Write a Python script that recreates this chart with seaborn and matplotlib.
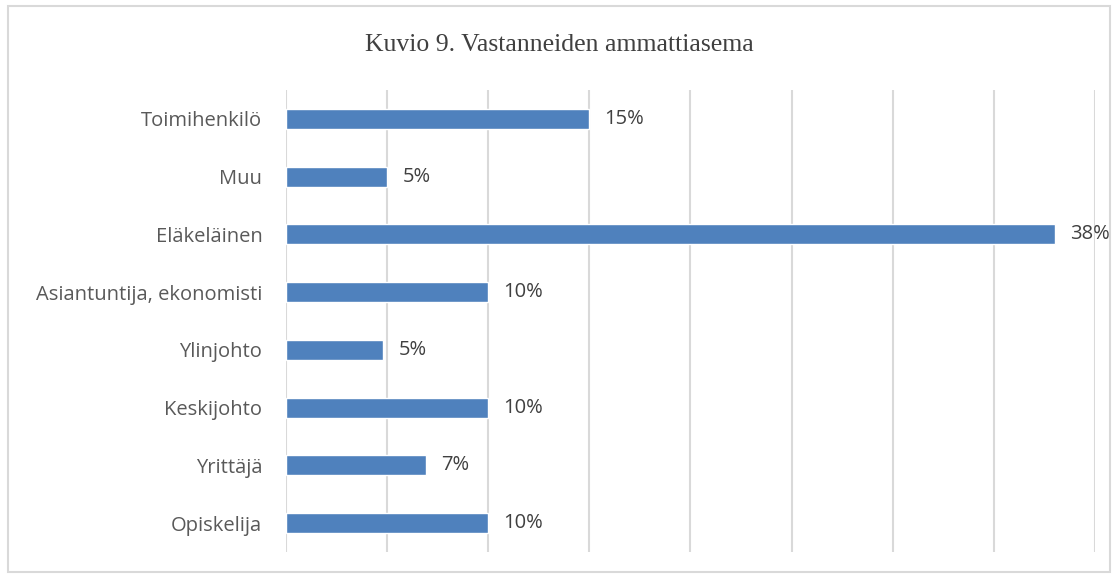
import matplotlib
matplotlib.use('Agg')
import matplotlib.pyplot as plt
import seaborn as sb
import pandas as pd
from matplotlib.patches import Rectangle

# data (percent of respondents)
categories = ['Toimihenkilö', 'Muu', 'Eläkeläinen', 'Asiantuntija, ekonomisti',
              'Ylinjohto', 'Keskijohto', 'Yrittäjä', 'Opiskelija']
shares = [15, 5, 38, 10, 4.8, 10, 6.9, 10]
title = 'Kuvio 9. Vastanneiden ammattiasema'

df = pd.DataFrame({'category': categories, 'share': shares})

sb.set_style('white')
plt.rcParams['font.family'] = ['Open Sans', 'DejaVu Sans']

f = plt.figure(figsize=(11.18, 5.76), dpi=100)
ax = f.add_axes([0.2558, 0.0417, 0.9794 - 0.2558, 0.84375 - 0.0417])

sb.barplot(data=df, x='share', y='category', orient='h', color='#4f81bd',
           saturation=1, width=0.35, ax=ax, zorder=3)

ax.set_xlim(0, 40)
ax.set_xticks(range(0, 41, 5))
ax.set_xticklabels([])
ax.grid(axis='x', color='#d9d9d9', linewidth=1.5, zorder=0)
ax.grid(axis='y', visible=False)
ax.tick_params(axis='both', length=0)
ax.tick_params(axis='y', labelsize=14.5, labelcolor='#595959', pad=17)
ax.set_xlabel('')
ax.set_ylabel('')
for s in ax.spines.values():
    s.set_visible(False)

labels = [str(round(v)) + '%' for v in shares]
ax.bar_label(ax.containers[0], labels=labels, padding=11,
             fontsize=14.5, color='#404040')

f.text(0.5, 0.922, title, ha='center', va='center', fontsize=18.5,
       family='Liberation Serif', color='#404040')

# outer chart frame
f.patches.append(Rectangle((0.0075, 0.007), 0.985, 0.982, transform=f.transFigure,
                           fill=False, edgecolor='#d9d9d9', linewidth=1.5))

f.savefig('out.png', dpi=100)
